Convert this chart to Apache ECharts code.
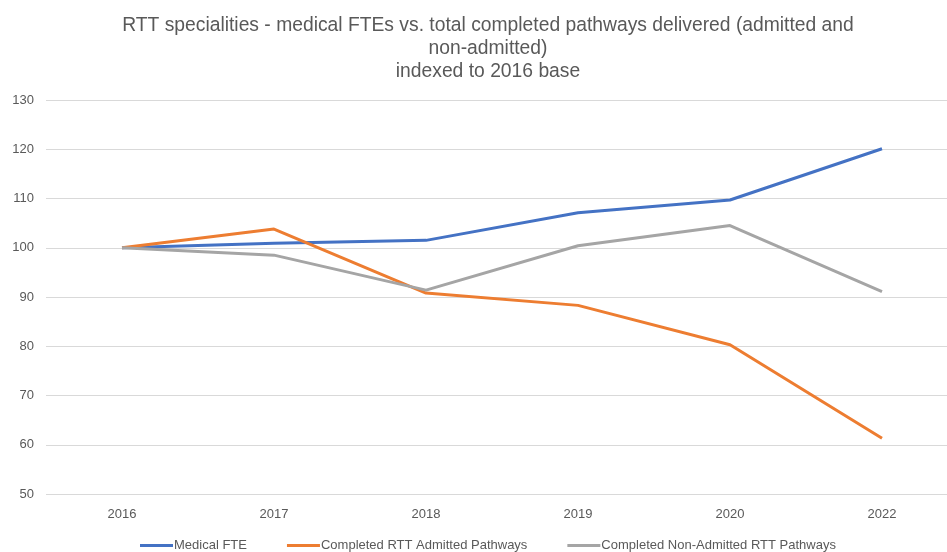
<!DOCTYPE html>
<html>
<head>
<meta charset="utf-8">
<script src="https://cdn.jsdelivr.net/npm/echarts@6/dist/echarts.min.js"></script>
<style>
  html, body { margin: 0; padding: 0; background: #fff; }
  #chart { width: 947px; height: 552px; }
</style>
</head>
<body>
<div id="chart"></div>
<script>
// categories (no 2021 in the source)
const years = ['2016', '2017', '2018', '2019', '2020', '2022']
const medicalFte = [100, 100.9, 101.5, 107.1, 109.7, 120.1]
const admitted = [100, 103.8, 90.8, 88.3, 80.3, 61.3]
const nonAdmitted = [100, 98.5, 91.4, 100.4, 104.5, 91.1]

const chart = echarts.init(document.getElementById('chart'))

const lineSeries = (name, data, color) => ({
  name: name,
  type: 'line',
  data: data,
  symbol: 'none',
  smooth: false,
  lineStyle: { width: 3, color: color },
  itemStyle: { color: color }
})

chart.setOption({
  animation: false,
  title: {
    text: 'RTT specialities - medical FTEs vs. total completed pathways delivered (admitted and\nnon-admitted)\nindexed to 2016 base',
    left: 483,
    top: 9,
    textAlign: 'center',
    textStyle: {
      fontFamily: 'Liberation Sans',
      fontWeight: 'normal',
      fontSize: 19.3,
      color: '#595959',
      lineHeight: 23
    }
  },
  legend: {
    bottom: -5,
    left: 135,
    itemWidth: 33,
    itemHeight: 3,
    itemGap: 40,
    icon: 'rect',
    textStyle: {
      fontFamily: 'Liberation Sans',
      fontSize: 13,
      color: '#595959',
      padding: [0, 0, 0, -4]
    },
    data: ['Medical FTE', 'Completed RTT Admitted Pathways', 'Completed Non-Admitted RTT Pathways']
  },
  grid: {
    left: 46,
    top: 100,
    right: -11,
    height: 394,
    outerBoundsMode: 'none'
  },
  xAxis: {
    type: 'category',
    data: years,
    boundaryGap: true,
    axisLine: { show: false },
    axisTick: { show: false },
    axisLabel: {
      margin: 14,
      fontFamily: 'Liberation Sans',
      fontSize: 13,
      color: '#595959'
    }
  },
  yAxis: {
    type: 'value',
    min: 50,
    max: 130,
    interval: 10,
    axisLine: { show: false },
    axisTick: { show: false },
    axisLabel: {
      margin: 12,
      fontFamily: 'Liberation Sans',
      fontSize: 13,
      color: '#595959'
    },
    splitLine: { lineStyle: { color: '#d9d9d9', width: 1 } }
  },
  series: [
    lineSeries('Medical FTE', medicalFte, '#4472C4'),
    lineSeries('Completed RTT Admitted Pathways', admitted, '#ED7D31'),
    lineSeries('Completed Non-Admitted RTT Pathways', nonAdmitted, '#A5A5A5')
  ]
})
</script>
</body>
</html>
